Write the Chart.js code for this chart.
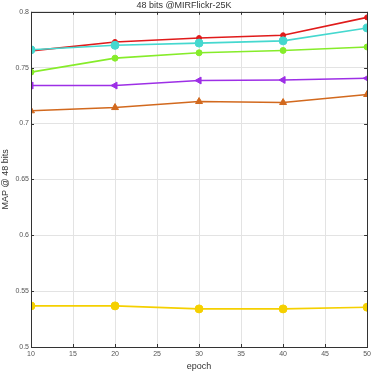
<!DOCTYPE html>
<html><head><meta charset="utf-8">
<script src="https://cdn.jsdelivr.net/npm/chart.js@4/dist/chart.umd.min.js"></script>
<style>html,body{margin:0;padding:0;background:#fff}#wrap{width:374px;height:372px}</style>
</head><body><div id="wrap"><canvas id="c"></canvas></div>
<script>
const epochs = [10, 20, 30, 40, 50];
const redVals = [0.765, 0.773, 0.7765, 0.779, 0.795];
const cyanVals = [0.766, 0.770, 0.772, 0.774, 0.7855];
const greenVals = [0.746, 0.7585, 0.7633, 0.7654, 0.7685];
const purpleVals = [0.734, 0.734, 0.7385, 0.739, 0.7405];
const orangeVals = [0.7114, 0.7143, 0.7197, 0.7188, 0.726];
const yellowVals = [0.5368, 0.5368, 0.5341, 0.5341, 0.5356];
const xTicks = [10, 15, 20, 25, 30, 35, 40, 45, 50];
const yTicks = [0.5, 0.55, 0.6, 0.65, 0.7, 0.75, 0.8];

function ds(vals, color, style, r, rot, order) {
  return {
    data: vals.map((v, i) => ({x: epochs[i], y: v})),
    borderColor: color, backgroundColor: color,
    pointStyle: style, pointRadius: r, pointRotation: rot || 0,
    borderWidth: 1.6, pointBorderWidth: 1, tension: 0, order: order
  };
}
const frame = {
  id: 'frame',
  afterDraw(chart) {
    const a = chart.chartArea, ctx = chart.ctx;
    ctx.save();
    ctx.strokeStyle = '#333'; ctx.lineWidth = 1;
    ctx.strokeRect(Math.round(a.left) + 0.5, Math.round(a.top) + 0.5, Math.round(a.right - a.left), Math.round(a.bottom - a.top));
    const xs = chart.scales.x, ys = chart.scales.y;
    ctx.beginPath();
    xTicks.forEach(t => { const px = Math.round(xs.getPixelForValue(t)) + 0.5;
      ctx.moveTo(px, a.bottom); ctx.lineTo(px, a.bottom - 3);
      ctx.moveTo(px, a.top); ctx.lineTo(px, a.top + 3); });
    yTicks.forEach(t => { const py = Math.round(ys.getPixelForValue(t)) + 0.5;
      ctx.moveTo(a.left, py); ctx.lineTo(a.left + 3, py);
      ctx.moveTo(a.right, py); ctx.lineTo(a.right - 3, py); });
    ctx.stroke();
    ctx.restore();
  }
};
new Chart(document.getElementById('c'), {
  type: 'line',
  data: { datasets: [
    ds(redVals, '#e01b1b', 'circle', 2.5, 0, 6),
    ds(cyanVals, '#45d8cf', 'circle', 4, 0, 5),
    ds(greenVals, '#86ec2a', 'circle', 3, 0, 4),
    ds(purpleVals, '#9d2fe6', 'triangle', 4, -90, 3),
    ds(orangeVals, '#d2691e', 'triangle', 4, 0, 2),
    ds(yellowVals, '#f5d000', 'circle', 4, 0, 1)
  ]},
  options: {
    responsive: true, maintainAspectRatio: false, animation: false,
    layout: { padding: { top: 0, right: 6, left: 0, bottom: 0 } },
    plugins: {
      legend: { display: false }, tooltip: { enabled: false },
      title: { display: true, text: '48 bits @MIRFlickr-25K', color: '#333',
        font: { family: 'Liberation Sans', size: 9, weight: 'normal' }, padding: { top: 0, bottom: 1 } }
    },
    scales: {
      x: { type: 'linear', min: 10, max: 50,
        afterBuildTicks: s => { s.ticks = xTicks.map(v => ({value: v})); },
        grid: { color: '#e3e3e3', drawTicks: false },
        border: { display: false },
        ticks: { color: '#555', font: { family: 'Liberation Sans', size: 7 }, padding: 3, maxRotation: 0 },
        title: { display: true, text: 'epoch', color: '#333', font: { family: 'Liberation Sans', size: 9 }, padding: { top: 1, bottom: 0 } },
        afterFit: s => { s.height = 25; }
      },
      y: { min: 0.5, max: 0.8,
        afterBuildTicks: s => { s.ticks = yTicks.map(v => ({value: v})); },
        grid: { color: '#e3e3e3', drawTicks: false },
        border: { display: false },
        ticks: { color: '#555', font: { family: 'Liberation Sans', size: 7 }, padding: 2,
          callback: v => String(Math.round(v * 100) / 100) },
        title: { display: true, text: 'MAP @ 48 bits', color: '#333', font: { family: 'Liberation Sans', size: 9 }, padding: { top: 0, bottom: 2 } },
        afterFit: s => { s.width = 31; }
      }
    }
  },
  plugins: [frame]
});
</script></body></html>
